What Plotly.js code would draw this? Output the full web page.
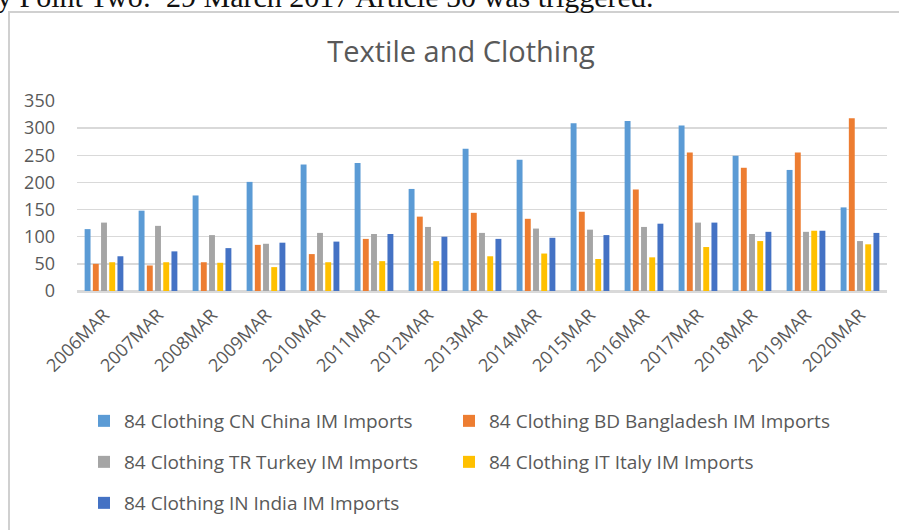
<!DOCTYPE html>
<html>
<head>
<meta charset="utf-8">
<script src="https://cdn.plot.ly/plotly-3.0.1.min.js"></script>
<style>
  html, body { margin: 0; padding: 0; background: #fff; }
  #chart { width: 899px; height: 530px; }
</style>
</head>
<body>
<div id="chart"></div>
<script>
const categories = ["2006MAR","2007MAR","2008MAR","2009MAR","2010MAR","2011MAR","2012MAR","2013MAR","2014MAR","2015MAR","2016MAR","2017MAR","2018MAR","2019MAR","2020MAR"];
const china      = [114, 148, 176, 201, 233, 236, 188, 262, 242, 309, 313, 305, 249, 223, 154];
const bangladesh = [ 50,  47,  53,  85,  68,  96, 137, 144, 133, 146, 187, 255, 227, 255, 318];
const turkey     = [126, 120, 103,  87, 107, 105, 118, 107, 115, 113, 118, 126, 105, 109,  92];
const italy      = [ 53,  53,  52,  44,  53,  55,  55,  64,  69,  59,  62,  81,  92, 111,  86];
const india      = [ 64,  73,  79,  89,  91, 105, 100,  96,  98, 103, 124, 126, 109, 111, 107];

const seriesNames = [
  "84 Clothing CN China IM Imports",
  "84 Clothing BD Bangladesh IM Imports",
  "84 Clothing TR Turkey IM Imports",
  "84 Clothing IT Italy IM Imports",
  "84 Clothing IN India IM Imports"
];
const seriesValues = [china, bangladesh, turkey, italy, india];
const colors = ["#5B9BD5", "#ED7D31", "#A5A5A5", "#FFC000", "#4472C4"];
const legendIds = ["legend", "legend2", "legend3", "legend4", "legend5"];

const FONT = "Open Sans, Lato, sans-serif";
const GREY = "#595959";

const traces = seriesValues.map((vals, i) => ({
  type: "bar",
  name: seriesNames[i],
  x: categories,
  y: vals,
  marker: { color: colors[i], line: { width: 0 } },
  legend: legendIds[i],
  hoverinfo: "x+y+name"
}));

// plot area in pixels: left 77, right 887, top 101, bottom 291
const L = 77, R = 12, T = 101, B = 239;
const pw = 899 - L - R, ph = 530 - T - B;
const px = v => (v - L) / pw;
const py = v => (530 - B - v) / ph;

const legendBase = {
  orientation: "h",
  xanchor: "left",
  yanchor: "top",
  font: { family: FONT, size: 19, color: GREY },
  bgcolor: "rgba(0,0,0,0)"
};
const leg = (xPix, yPix) => Object.assign({}, legendBase, { x: px(xPix), y: py(yPix) });

const layout = {
  width: 899, height: 530,
  margin: { l: L, r: R, t: T, b: B, pad: 0, autoexpand: false },
  paper_bgcolor: "#fff",
  plot_bgcolor: "#fff",
  title: {
    text: "Textile and Clothing",
    font: { family: FONT, size: 29, color: GREY },
    x: px(461), xanchor: "center", xref: "paper",
    y: 1 - 52 / 530, yanchor: "middle", yref: "container"
  },
  barmode: "group",
  bargap: 0.24,
  bargroupgap: 0.28,
  xaxis: {
    type: "category",
    tickangle: -45,
    tickfont: { family: FONT, size: 18, color: GREY },
    showgrid: false,
    showline: true, linecolor: "#d9d9d9", linewidth: 1.5,
    ticks: "",
    ticklabelstandoff: 5
  },
  yaxis: {
    range: [0, 350],
    dtick: 50,
    tick0: 0,
    tickfont: { family: FONT, size: 18, color: GREY },
    showgrid: true, gridcolor: "#d9d9d9", gridwidth: 1.5,
    zeroline: true, zerolinecolor: "#d9d9d9", zerolinewidth: 1.5,
    showline: false,
    ticks: "",
    ticklabelstandoff: 21
  },
  legend:  leg(84, 402),
  legend2: leg(449, 402),
  legend3: leg(84, 443),
  legend4: leg(449, 443),
  legend5: leg(84, 484),
  shapes: [{
    type: "rect", xref: "paper", yref: "paper",
    x0: px(9), x1: px(940), y0: py(650), y1: py(12),
    line: { color: "#d0d0d0", width: 2 },
    fillcolor: "rgba(0,0,0,0)",
    layer: "above"
  }],
  annotations: [{
    text: "y Point Two:  29 March 2017 Article 50 was triggered.",
    xref: "paper", yref: "paper",
    x: px(-5), xanchor: "left",
    y: py(15), yanchor: "bottom",
    showarrow: false,
    font: { family: "Liberation Serif, DejaVu Serif, serif", size: 30, color: "#111" }
  }],
  showlegend: true
};

Plotly.newPlot("chart", traces, layout, { displayModeBar: false, staticPlot: true });
</script>
</body>
</html>
